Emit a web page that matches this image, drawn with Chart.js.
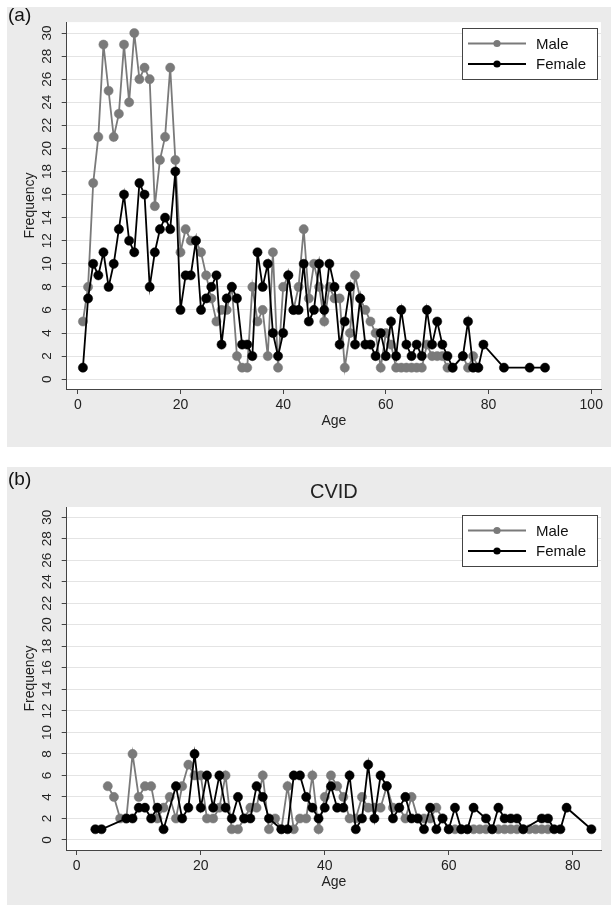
<!DOCTYPE html>
<html>
<head>
<meta charset="utf-8">
<title>Age distribution</title>
<script src="https://cdn.jsdelivr.net/npm/chart.js"></script>
<style>
    body {
        margin: 0;
        width: 611px;
        height: 905px;
        background: #fff;
        position: relative;
        overflow: hidden;
        font-family: "Liberation Sans", Arial, sans-serif;
    }
    .panel {
        position: absolute;
        left: 7px;
        width: 604px;
        background: #ebebeb;
    }
    #panelA { top: 7px; height: 440px; }
    #panelB { top: 467px; height: 438px; }
    .panel canvas { position: absolute; left: 0; top: 0; }
    .tag {
        position: absolute;
        left: 1px;
        font-size: 19px;
        line-height: 1;
        color: #111;
    }
</style>
</head>
<body>
<div class="panel" id="panelA">
    <canvas id="chartA" width="604" height="440"></canvas>
    <div class="tag" style="top:-2px">(a)</div>
</div>
<div class="panel" id="panelB">
    <canvas id="chartB" width="604" height="438"></canvas>
    <div class="tag" style="top:2px">(b)</div>
</div>

<script>
// Panel (a) - all patients
const maleAgeA = [1,2,3,4,5,6,7,8,9,10,11,12,13,14,15,16,17,18,19,20,21,22,23,24,25,26,27,28,29,30,
    31,32,33,34,35,36,37,38,39,40,41,42,43,44,45,46,47,48,49,50,51,52,53,54,55,56,57,58,59,60,
    61,62,63,64,65,66,67,68,69,70,71,72,73,75,76,77,78];
const maleFreqA = [5,8,17,21,29,25,21,23,29,24, 30,26,27,26,15,19,21,27,19,11, 13,12,12,11,9,7,5,6,6,8,
    2,1,1,8,5,6,2,11,1,8, 9,6,8,13,7,10,8,5,8,7, 7,1,4,9,7,6,5,4,1,4,
    3,1,1,1,1,1,1,3,2,2, 2,1,1, 2,1,2,1];
const femaleAgeA = [1,2,3,4,5,6,7,8,9,10,11,12,13,14,15,16,17,18,19,20,21,22,23,24,25,26,27,28,29,30,
    31,32,33,34,35,36,37,38,39,40,41,42,43,44,45,46,47,48,49,50,51,52,53,54,55,56,57,58,59,60,
    61,62,63,64,65,66,67,68,69,70,71,72,73,75,76,77,78,79,83,88,91];
const femaleFreqA = [1,7,10,9,11,8,10,13,16,12, 11,17,16,8,11,13,14,13,18,6, 9,9,12,6,7,8,9,3,7,8,
    7,3,3,2,11,8,10,4,2,4, 9,6,6,10,5,6,10,6,10,8, 3,5,8,3,7,3,3,2,4,2,
    5,2,6,3,2,3,2,6,3,5, 3,2,1, 2,5,1,1,3, 1,1,1];

// Panel (b) - CVID
const maleAgeB = [5,6,7,8,9,10,11,12,13,14,15,16,17,18,19,20,21,22,23,24,25,26,27,28,29,30,
    31,32,33,34,35,36,37,38,39,40,41,42,43,44,45,46,47,48,49,50,51,52,53,54,55,56,57,58,59,60,
    61,62,63,64,65,66,67,68,69,70,71,72,73,74,75,76];
const maleFreqB = [5,4,2,2,8,4,5,5,2,3, 4,2,5,7,6,6,2,2,3,6, 1,1,2,3,3,6,
    1,2,1,5,1,2,2,6,1,4, 6,5,4,2,2,4,3,3,3,5, 3,3,2,4,2,2,2,3,2,1,
    1,1,1,1,1,1,1,1,1,1, 1,1,1,1,1,1];
const femaleAgeB = [3,4,8,9,10,11,12,13,14,16,17,18,19,20,21,22,23,24,25,26,27,28,29,30,
    31,33,34,35,36,37,38,39,40,41,42,43,44,45,46,47,48,49,50,51,52,53,54,55,56,57,58,59,60,
    61,62,63,64,66,67,68,69,70,71,72,75,76,77,78,79,83];
const femaleFreqB = [1,1,2,2,3,3,2,3,1,5,2,3,8,3,6,3,6,3,2,4,2,2,5,4,
    2,1,1,6,6,4,3,2,3,5,3,3,6,1,2,7,2,6,5,2,3,4,2,2,1,3,1,2,1,
    3,1,1,3,2,1,3,2,2,2,1,2,2,1,1,3,1];

const yTicks = [0,2,4,6,8,10,12,14,16,18,20,22,24,26,28,30];
const xTicksA = [0,20,40,60,80,100];
const xTicksB = [0,20,40,60,80];

const MALE_COLOR = '#7a7a7a';
const FEMALE_COLOR = '#000000';
const AXIS_COLOR = '#444444';

Chart.defaults.font.family = '"Liberation Sans", Arial, sans-serif';
Chart.defaults.color = '#222';

// white plot region like Stata
const plotBackground = {
    id: 'plotBackground',
    beforeDraw(chart) {
        const { ctx, chartArea: a } = chart;
        ctx.save();
        ctx.fillStyle = '#ffffff';
        ctx.fillRect(a.left, a.top, a.right - a.left, a.bottom - a.top);
        ctx.restore();
    }
};

// boxed legend in the top right corner, line + marker keys
const boxLegend = {
    id: 'boxLegend',
    afterDraw(chart, args, opts) {
        const { ctx, chartArea: a } = chart;
        const w = 135, h = 51;
        const x = Math.round(a.right - 4 - w);
        const y = Math.round(a.top + opts.top);
        ctx.save();
        ctx.fillStyle = '#ffffff';
        ctx.fillRect(x, y, w, h);
        ctx.strokeStyle = AXIS_COLOR;
        ctx.lineWidth = 1;
        ctx.strokeRect(x + 0.5, y + 0.5, w, h);
        ctx.font = '15px "Liberation Sans", Arial, sans-serif';
        ctx.textBaseline = 'middle';
        chart.data.datasets.forEach((ds, i) => {
            const cy = y + 15.5 + i * 20.5;
            ctx.strokeStyle = ds.borderColor;
            ctx.lineWidth = ds.borderWidth;
            ctx.beginPath();
            ctx.moveTo(x + 6, cy);
            ctx.lineTo(x + 64, cy);
            ctx.stroke();
            ctx.fillStyle = ds.pointBackgroundColor;
            ctx.beginPath();
            ctx.arc(x + 35, cy, 3.6, 0, Math.PI * 2);
            ctx.fill();
            ctx.fillStyle = '#111';
            ctx.fillText(ds.label, x + 74, cy + 1);
        });
        ctx.restore();
    }
};

function series(label, ages, freq, color, order) {
    return {
        label: label,
        data: ages.map((a, i) => ({ x: a, y: freq[i] })),
        borderColor: color,
        backgroundColor: color,
        pointBackgroundColor: color,
        pointBorderColor: color,
        borderWidth: 1.8,
        pointRadius: 4.6,
        pointBorderWidth: 0.5,
        tension: 0,
        order: order
    };
}

function makeOptions(cfg) {
    return {
        responsive: false,
        animation: false,
        devicePixelRatio: 1,
        layout: { padding: { left: 0, right: 10, top: cfg.top, bottom: 0 } },
        plugins: {
            legend: { display: false },
            tooltip: { enabled: false },
            title: cfg.title ? {
                display: true,
                text: cfg.title,
                fullSize: false,
                color: '#222',
                font: { size: 20, weight: 'normal' },
                padding: { top: 13, bottom: 3 }
            } : { display: false },
            boxLegend: { top: cfg.legendTop }
        },
        scales: {
            x: {
                type: 'linear',
                min: cfg.xMin,
                max: cfg.xMax,
                afterBuildTicks: s => { s.ticks = cfg.xTicks.map(v => ({ value: v })); },
                afterFit: s => { s.height = cfg.xHeight; },
                ticks: { autoSkip: false, maxRotation: 0, padding: 3, font: { size: 14 }, color: '#222' },
                grid: { drawOnChartArea: false, tickLength: 5, tickColor: AXIS_COLOR },
                border: { color: AXIS_COLOR, width: 1 },
                title: { display: true, text: 'Age', color: '#222', font: { size: 14 }, padding: { top: 0, bottom: cfg.xTitlePad } }
            },
            y: {
                type: 'linear',
                min: cfg.yMin,
                max: 30.95,
                afterBuildTicks: s => { s.ticks = yTicks.map(v => ({ value: v })); },
                afterFit: s => { s.width = 59.7; },
                ticks: { minRotation: 90, maxRotation: 90, crossAlign: 'center', padding: 7, font: { size: 13.5 }, color: '#222' },
                grid: { color: '#e4e4e4', lineWidth: 1, tickLength: 5, tickColor: AXIS_COLOR },
                border: { color: AXIS_COLOR, width: 1 },
                title: { display: true, text: 'Frequency', color: '#222', font: { size: 14 }, padding: { top: 15, bottom: 0 } }
            }
        }
    };
}

new Chart(document.getElementById('chartA'), {
    type: 'line',
    data: {
        datasets: [
            series('Male', maleAgeA, maleFreqA, MALE_COLOR, 1),
            series('Female', femaleAgeA, femaleFreqA, FEMALE_COLOR, 0)
        ]
    },
    options: makeOptions({ top: 14, xMin: -2.16, xMax: 101.9, yMin: -0.85, xTicks: xTicksA, xHeight: 58, xTitlePad: 17, legendTop: 6.3 }),
    plugins: [plotBackground, boxLegend]
});

new Chart(document.getElementById('chartB'), {
    type: 'line',
    data: {
        datasets: [
            series('Male', maleAgeB, maleFreqB, MALE_COLOR, 1),
            series('Female', femaleAgeB, femaleFreqB, FEMALE_COLOR, 0)
        ]
    },
    options: makeOptions({ top: 0, title: 'CVID', xMin: -1.62, xMax: 84.55, yMin: -0.93, xTicks: xTicksB, xHeight: 55, xTitlePad: 14, legendTop: 8 }),
    plugins: [plotBackground, boxLegend]
});
</script>
</body>
</html>
